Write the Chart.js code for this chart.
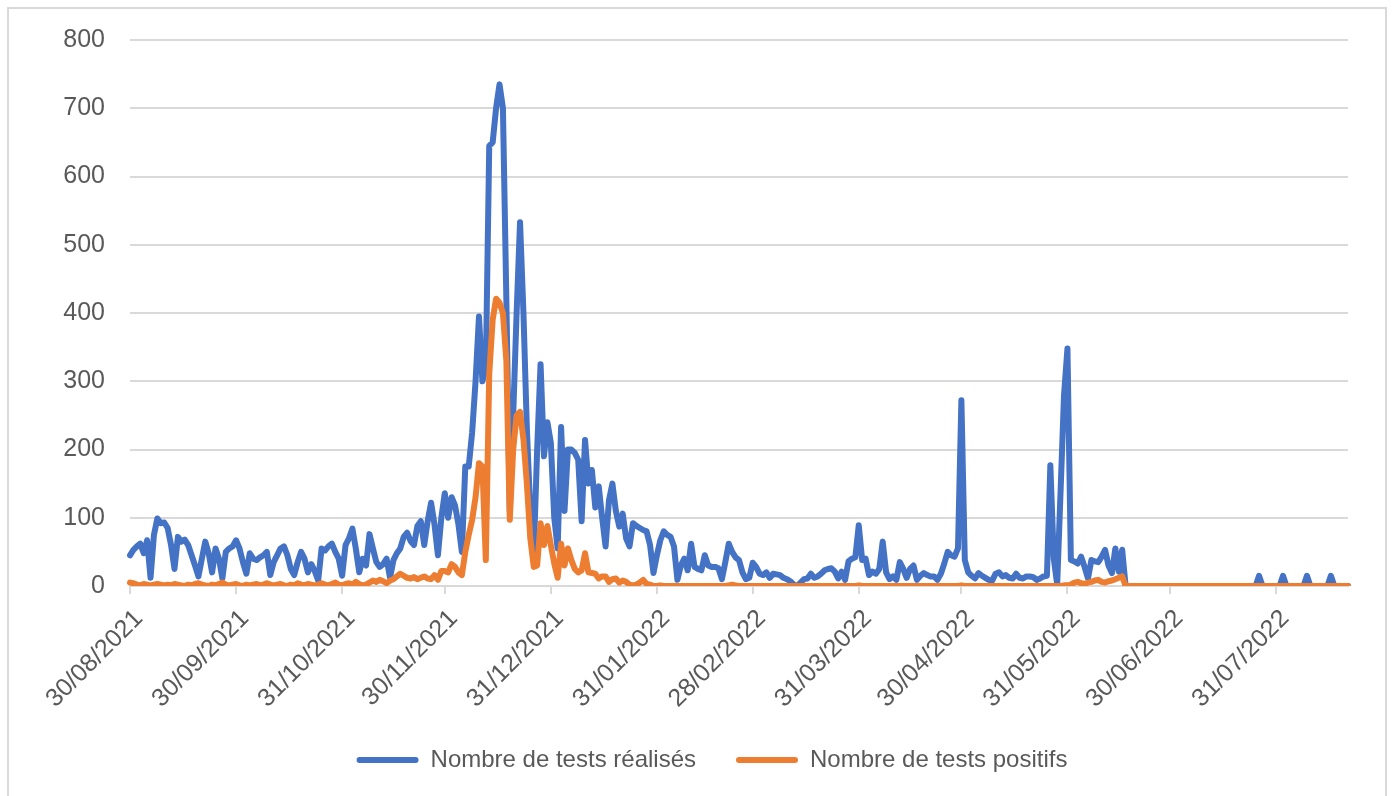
<!DOCTYPE html>
<html>
<head>
<meta charset="utf-8">
<script src="https://cdn.jsdelivr.net/npm/chart.js@4.4.0/dist/chart.umd.min.js"></script>
<style>
  html, body { margin: 0; padding: 0; background: #fff; }
  canvas { display: block; }
</style>
</head>
<body>
<canvas id="testsChart" width="1394" height="796"></canvas>
<script>
// un point par jour, du 30/08/2021 au 21/08/2022
const startDay = new Date(2021, 7, 30);
const dayCount = 357;

// dates affichées sous l'axe
const tickLabels = [
  "30/08/2021", "30/09/2021", "31/10/2021", "30/11/2021", "31/12/2021", "31/01/2022",
  "28/02/2022", "31/03/2022", "30/04/2022", "31/05/2022", "30/06/2022", "31/07/2022"
];

const testsRealises = [
  45, 53, 58, 62, 48, 67, 12, 75, 99, 92,
  93, 85, 60, 25, 72, 65, 68, 60, 45, 30,
  14, 40, 65, 48, 20, 55, 40, 11, 50, 55,
  58, 67, 55, 35, 18, 48, 40, 38, 42, 45,
  50, 16, 35, 45, 55, 58, 45, 25, 16, 35,
  50, 40, 20, 32, 22, 8, 55, 52, 58, 62,
  50, 40, 15, 60, 70, 84, 55, 20, 40, 30,
  76, 55, 35, 28, 32, 40, 12, 38, 48, 55,
  72, 78, 66, 60, 88, 95, 60, 95, 122, 90,
  45, 100, 136, 100, 130, 118, 90, 50, 175, 175,
  225, 300, 395, 300, 320, 645, 650, 700, 735, 700,
  420, 110, 250, 400, 533, 400, 230, 110, 45, 200,
  325, 190, 240, 210, 100, 55, 233, 110, 200, 200,
  195, 185, 95, 214, 150, 170, 115, 146, 100, 58,
  126, 150, 110, 87, 106, 70, 58, 92, 88, 85,
  82, 80, 60, 19, 45, 67, 80, 75, 72, 58,
  9, 30, 40, 23, 62, 28, 25, 23, 45, 30,
  28, 28, 26, 10, 35, 62, 50, 42, 38, 20,
  10, 12, 34, 28, 18, 16, 20, 12, 18, 17,
  16, 12, 10, 7, 2, 0, 5, 10, 11, 18,
  12, 14, 18, 23, 25, 26, 21, 11, 21, 9,
  36, 40, 42, 89, 38, 40, 16, 21, 18, 25,
  65, 20, 10, 14, 9, 35, 25, 12, 25, 30,
  9, 15, 19, 16, 14, 14, 9, 18, 33, 50,
  45, 43, 55, 272, 38, 20, 15, 11, 19, 15,
  12, 9, 8, 18, 20, 14, 16, 12, 11, 18,
  12, 11, 14, 14, 13, 9, 11, 14, 15, 177,
  40, 2, 140, 280, 348, 38, 36, 33, 43, 28,
  11, 38, 36, 35, 43, 53, 30, 19, 55, 21,
  53, 0, 0, 0, 0, 0, 0, 0, 0, 0,
  0, 0, 0, 0, 0, 0, 0, 0, 0, 0,
  0, 0, 0, 0, 0, 0, 0, 0, 0, 0,
  0, 0, 0, 0, 0, 0, 0, 0, 0, 0,
  15, 0, 0, 0, 0, 0, 0, 15, 0, 0,
  0, 0, 0, 0, 15, 0, 0, 0, 0, 0,
  0, 15, 0, 0, 0, 0, 0
];

const testsPositifs = [
  5, 4, 2, 1, 3, 2, 1, 2, 3, 2,
  1, 2, 1, 3, 2, 1, 0, 2, 1, 3,
  4, 2, 1, 0, 2, 1, 3, 5, 2, 1,
  2, 3, 1, 0, 2, 1, 2, 3, 1, 2,
  4, 2, 1, 2, 3, 1, 0, 2, 1, 4,
  2, 1, 3, 2, 1, 2, 4, 2, 1, 3,
  5, 2, 1, 3, 4, 2, 6, 3, 1, 2,
  5, 8, 6, 9, 7, 4, 8, 10, 14, 18,
  15, 12, 11, 13, 10, 12, 14, 11, 10, 16,
  9, 22, 22, 20, 32, 28, 20, 16, 50, 75,
  97, 130, 180, 175, 38, 311, 390, 421, 415, 400,
  330, 97, 200, 250, 255, 215, 150, 70, 28, 30,
  92, 60, 88, 60, 33, 12, 62, 30, 55, 38,
  25, 20, 23, 48, 20, 19, 18, 11, 14, 14,
  6, 10, 11, 5, 8, 6, 2, 1, 2, 5,
  9, 3, 2, 0, 0, 1, 0, 0, 0, 0,
  0, 0, 0, 0, 0, 0, 0, 0, 0, 0,
  0, 0, 0, 0, 0, 1, 2, 1, 0, 0,
  0, 0, 0, 0, 0, 0, 0, 0, 0, 0,
  0, 0, 0, 0, 0, 0, 0, 0, 0, 0,
  0, 0, 0, 0, 0, 0, 0, 0, 0, 0,
  0, 0, 0, 1, 0, 0, 0, 0, 0, 0,
  0, 0, 0, 0, 0, 0, 0, 0, 0, 0,
  0, 0, 0, 0, 0, 0, 0, 0, 0, 0,
  0, 0, 0, 1, 0, 0, 0, 0, 0, 0,
  0, 0, 0, 0, 0, 0, 0, 0, 0, 0,
  0, 0, 0, 0, 0, 0, 0, 0, 0, 0,
  0, 0, 0, 1, 1, 2, 5, 6, 4, 3,
  5, 6, 8, 9, 6, 5, 7, 8, 10, 12,
  14, 0, 0, 0, 0, 0, 0, 0, 0, 0,
  0, 0, 0, 0, 0, 0, 0, 0, 0, 0,
  0, 0, 0, 0, 0, 0, 0, 0, 0, 0,
  0, 0, 0, 0, 0, 0, 0, 0, 0, 0,
  0, 0, 0, 0, 0, 0, 0, 0, 0, 0,
  0, 0, 0, 0, 0, 0, 0, 0, 0, 0,
  0, 0, 0, 0, 0, 0, 0
];

// étiquettes jour par jour (jj/mm/aaaa)
const labels = [];
for (let i = 0; i < dayCount; i++) {
  const d = new Date(startDay.getFullYear(), startDay.getMonth(), startDay.getDate() + i);
  labels.push(
    String(d.getDate()).padStart(2, "0") + "/" +
    String(d.getMonth() + 1).padStart(2, "0") + "/" + d.getFullYear()
  );
}

const fontFamily = "'Liberation Sans', Arial, sans-serif";
const textColor = "#595959";
const lineGrey = "#d9d9d9";

// fond blanc + cadre du graphique
const chartFrame = {
  id: "chartFrame",
  beforeDraw(chart) {
    const ctx = chart.ctx;
    ctx.save();
    ctx.fillStyle = "#ffffff";
    ctx.fillRect(0, 0, chart.width, chart.height);
    ctx.strokeStyle = lineGrey;
    ctx.lineWidth = 2;
    ctx.strokeRect(8, 8, 1378, 800);
    ctx.restore();
  }
};

const config = {
  type: "line",
  data: {
    labels: labels,
    datasets: [
      {
        label: "Nombre de tests réalisés",
        data: testsRealises,
        borderColor: "#4472C4",
        backgroundColor: "#4472C4",
        borderWidth: 6,
        pointRadius: 0,
        borderJoinStyle: "round",
        borderCapStyle: "round",
        order: 1,
      },
      {
        label: "Nombre de tests positifs",
        data: testsPositifs,
        borderColor: "#ED7D31",
        backgroundColor: "#ED7D31",
        borderWidth: 6,
        pointRadius: 0,
        borderJoinStyle: "round",
        borderCapStyle: "round",
        order: 0, // dessinée au-dessus
      },
    ],
  },
  options: {
    responsive: false,
    animation: false,
    devicePixelRatio: 1,
    layout: {
      padding: { left: 30, right: 0, top: 40, bottom: 14 },
    },
    scales: {
      x: {
        type: "category",
        offset: false,
        grid: {
          drawOnChartArea: false,
          drawTicks: true,
          tickLength: 8,
          color: lineGrey,
          lineWidth: 2,
        },
        border: { display: true, color: lineGrey, width: 2 },
        ticks: {
          autoSkip: false,
          minRotation: 45,
          maxRotation: 45,
          padding: 10,
          labelOffset: 9,
          color: textColor,
          font: { family: fontFamily, size: 25 },
        },
        afterBuildTicks(scale) {
          scale.ticks = scale.ticks.filter((t) => tickLabels.includes(labels[t.value]));
        },
        afterFit(scale) {
          scale.height = 122;
        },
      },
      y: {
        min: 0,
        max: 800,
        ticks: {
          stepSize: 100,
          padding: 25,
          color: textColor,
          font: { family: fontFamily, size: 25 },
        },
        grid: { color: lineGrey, lineWidth: 2, drawTicks: false },
        border: { display: false },
        afterFit(scale) {
          scale.width = 100;
        },
      },
      // axe vide à droite : garde la marge droite sans décaler la légende
      spacer: {
        type: "linear",
        position: "right",
        grid: { display: false, drawTicks: false },
        border: { display: false },
        ticks: { display: false },
        afterFit(scale) {
          scale.width = 46;
        },
      },
    },
    plugins: {
      tooltip: { enabled: false },
      legend: {
        position: "bottom",
        labels: {
          boxWidth: 62,
          boxHeight: 6,
          padding: 40,
          useBorderRadius: true,
          borderRadius: 3,
          color: textColor,
          font: { family: fontFamily, size: 24 },
          sort: (a, b) => a.datasetIndex - b.datasetIndex,
          generateLabels(chart) {
            const items = Chart.defaults.plugins.legend.labels.generateLabels(chart);
            items.forEach((item) => {
              item.lineWidth = 0;
            });
            return items;
          },
        },
      },
    },
  },
  plugins: [chartFrame],
};

const testsChart = new Chart(document.getElementById("testsChart"), config);
</script>
</body>
</html>
